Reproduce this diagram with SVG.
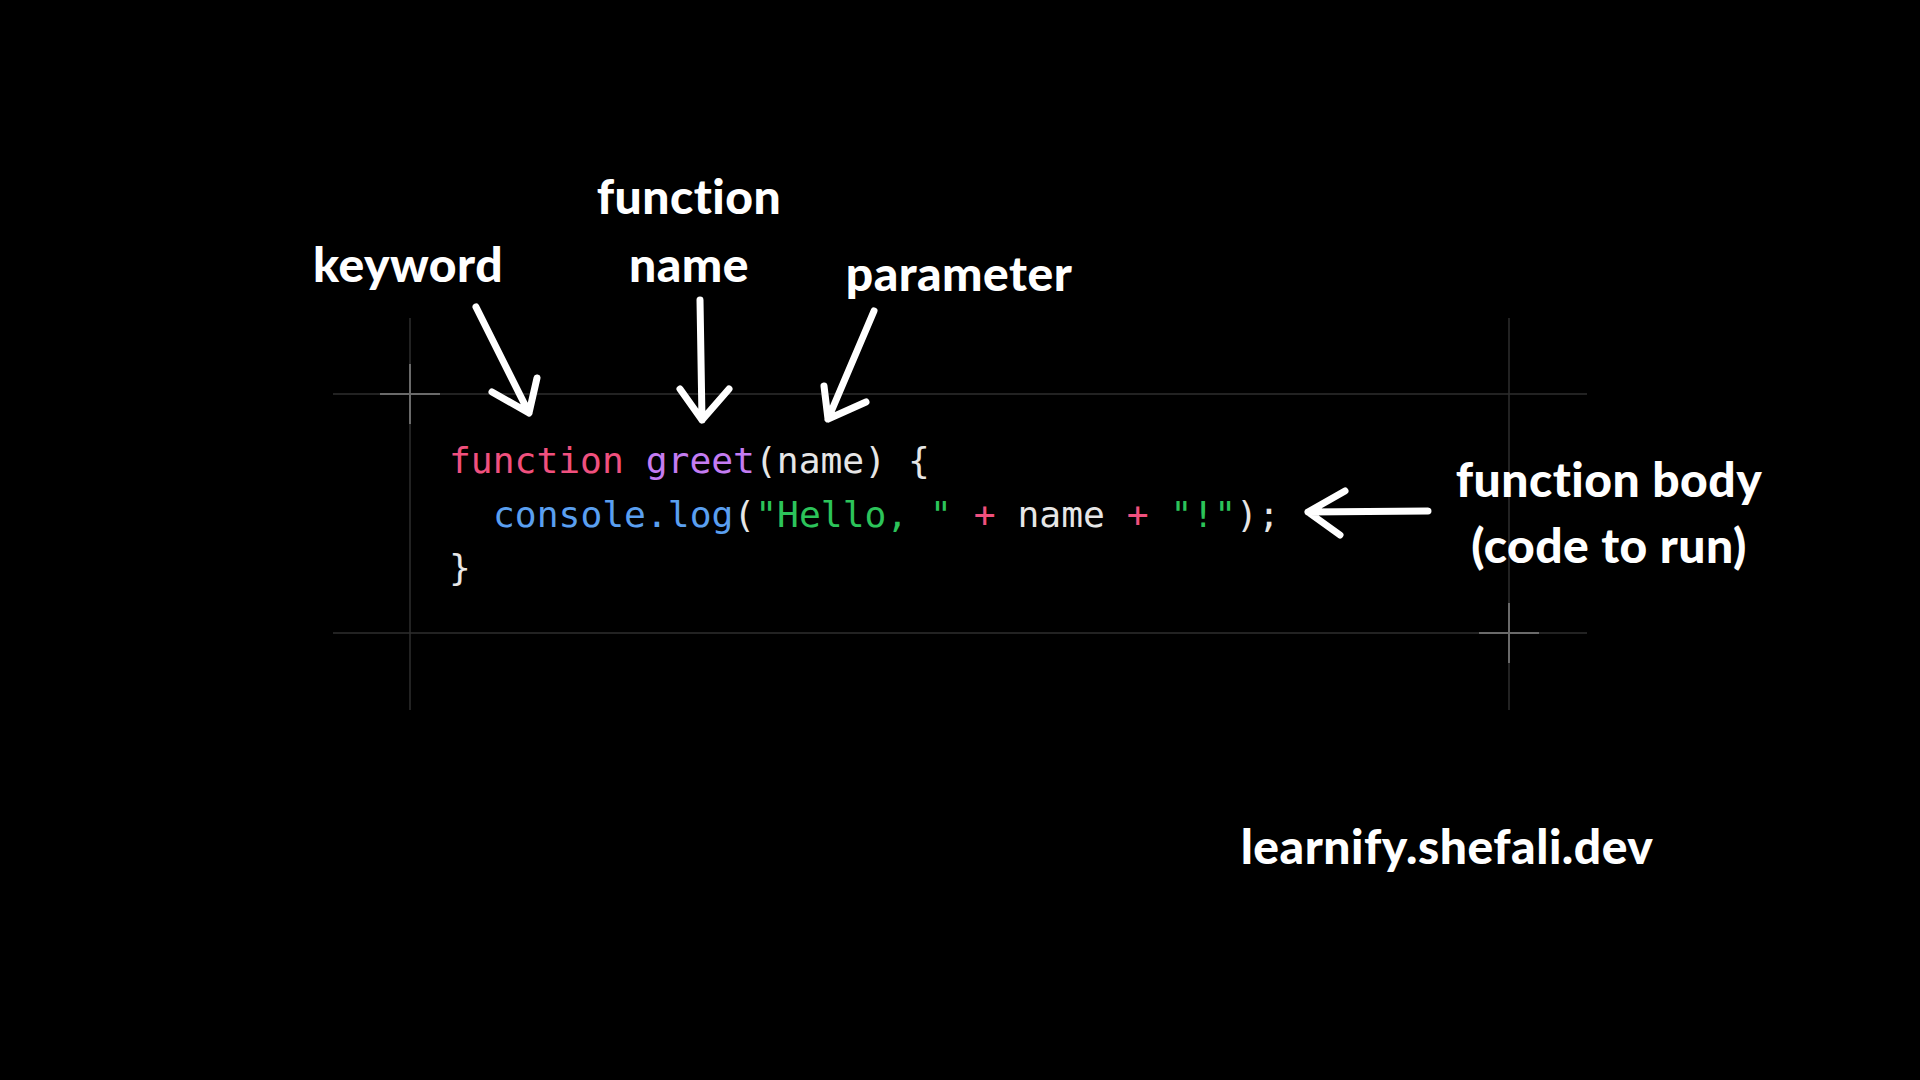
<svg xmlns="http://www.w3.org/2000/svg" width="1920" height="1080" viewBox="0 0 1920 1080">
<style>
.g{stroke:#2e2e2e;stroke-width:1.5}
.c{stroke:#6a6a6a;stroke-width:2}
.code{font-family:"DejaVu Sans Mono","Liberation Mono",monospace;font-size:36.3px;fill:#e6e6e6}
.lbl{font-family:"Lato","Open Sans",sans-serif;font-weight:900;font-size:48px;fill:#fff;text-anchor:middle;letter-spacing:0.5px}
.ar{stroke:#fff;stroke-width:7;fill:none;stroke-linecap:round;stroke-linejoin:round}
</style>
<rect width="1920" height="1080" fill="#000"/>
<g id="grid">
<line class="g" x1="333" y1="394" x2="1587" y2="394"/>
<line class="g" x1="333" y1="633" x2="1587" y2="633"/>
<line class="g" x1="410" y1="318" x2="410" y2="710"/>
<line class="g" x1="1509" y1="318" x2="1509" y2="710"/>
<line class="c" x1="380" y1="394" x2="440" y2="394"/>
<line class="c" x1="410" y1="364" x2="410" y2="424"/>
<line class="c" x1="1479" y1="633" x2="1539" y2="633"/>
<line class="c" x1="1509" y1="603" x2="1509" y2="663"/>
</g>
<g id="code" class="code" xml:space="preserve">
<text x="449" y="473"><tspan fill="#f0507e">function</tspan> <tspan fill="#c47cf2">greet</tspan>(name) {</text>
<text x="493" y="527"><tspan fill="#5a9ff0">console.log</tspan>(<tspan fill="#2cc45a">"Hello, "</tspan> <tspan fill="#f0507e">+</tspan> name <tspan fill="#f0507e">+</tspan> <tspan fill="#2cc45a">"!"</tspan>);</text>
<text x="449" y="580">}</text>
</g>
<g id="labels" class="lbl">
<text x="408" y="282">keyword</text>
<text x="689" y="214">function</text>
<text x="689" y="282">name</text>
<text x="959" y="291">parameter</text>
<text x="1609" y="497">function body</text>
<text x="1609" y="563">(code to run)</text>
<text x="1447" y="864">learnify.shefali.dev</text>
</g>
<g id="connectors" class="ar">
<path d="M476 307 L529 413 M492 392 L529 413 L537 378"/>
<path d="M700 300 L702 420 M680 389 L702 420 L729 389"/>
<path d="M874 311 L828 419 M824 386 L828 419 L866 402"/>
<path d="M1428 511 L1308 512 M1345 491 L1308 512 L1340 535"/>
</g>
</svg>
